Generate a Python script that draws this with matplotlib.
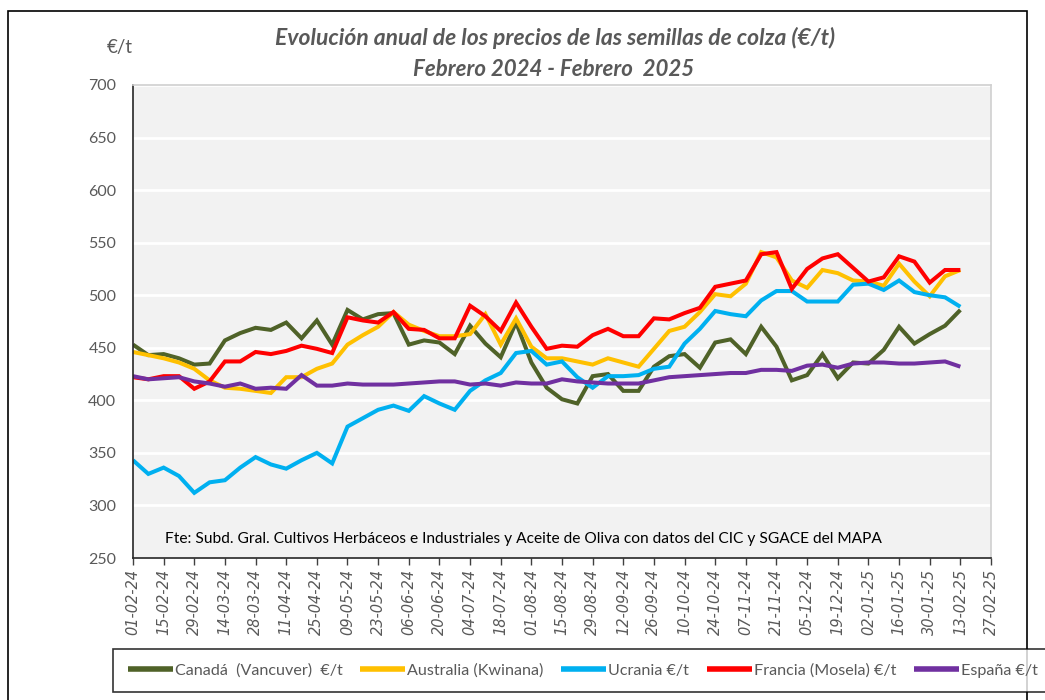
import numpy as np
import pandas as pd
import matplotlib
matplotlib.use("Agg")
import matplotlib.pyplot as plt
import matplotlib.dates as mdates
from matplotlib.patches import Rectangle

plt.rcParams['font.family'] = ['Lato', 'DejaVu Sans']

# weekly prices (€/t), 01-02-24 .. 13-02-25
fechas = pd.date_range('2024-02-01', periods=55, freq='7D')

canada = [453, 443, 444, 440, 434, 435, 457, 464, 469, 467, 474, 459, 476, 453, 486,
          477, 482, 483, 453, 457, 455, 444, 471, 454, 441, 474, 436, 412, 401, 397,
          423, 425, 409, 409, 432, 442, 444, 431, 455, 458, 444, 470, 451, 419, 424,
          444, 421, 436, 435, 448, 470, 454, 463, 471, 486]
australia = [446, 443, 440, 436, 430, 419, 412, 411, 409, 407, 422, 422, 430, 435, 453,
             462, 470, 484, 472, 466, 461, 461, 463, 482, 453, 478, 451, 440, 440, 437,
             434, 440, 436, 432, 449, 466, 470, 484, 501, 499, 511, 541, 536, 514, 507,
             524, 521, 514, 513, 509, 530, 513, 499, 518, 524]
ucrania = [343, 330, 336, 328, 312, 322, 324, 336, 346, 339, 335, 343, 350, 340, 375,
           383, 391, 395, 390, 404, 397, 391, 409, 419, 426, 445, 447, 434, 437, 422,
           412, 423, 423, 424, 430, 432, 454, 468, 485, 482, 480, 495, 504, 504, 494,
           494, 494, 510, 511, 505, 514, 503, 500, 498, 489]
francia = [422, 420, 423, 423, 411, 418, 437, 437, 446, 444, 447, 452, 449, 445, 479,
           476, 474, 484, 468, 467, 459, 459, 490, 480, 466, 493, 470, 449, 452, 451,
           462, 468, 461, 461, 478, 477, 483, 488, 508, 511, 514, 539, 541, 506, 525,
           535, 539, 526, 513, 517, 537, 532, 512, 524, 524]
espana = [423, 420, 421, 422, 418, 416, 413, 416, 411, 412, 411, 424, 414, 414, 416,
          415, 415, 415, 416, 417, 418, 418, 415, 416, 414, 417, 416, 416, 420, 418,
          417, 416, 416, 416, 419, 422, 423, 424, 425, 426, 426, 429, 429, 428, 433,
          434, 431, 435, 436, 436, 435, 435, 436, 437, 432]

series = [
    ("Canadá  (Vancuver)  €/t", canada, "#4F6228"),
    ("Australia (Kwinana)", australia, "#FFC000"),
    ("Ucrania €/t", ucrania, "#00B0F0"),
    ("Francia (Mosela) €/t", francia, "#FF0000"),
    ("España €/t", espana, "#7030A0"),
]

gris = "#595959"

fig = plt.figure(figsize=(10.45, 7), dpi=100)
ax = fig.add_axes([133 / 1045, 1 - 558 / 700, 858 / 1045, 473 / 700])
ax.set_facecolor("#F2F2F2")

for nombre, valores, color in series:
    ax.plot(fechas, valores, color=color, lw=2.9, label=nombre,
            solid_joinstyle='miter', solid_capstyle='butt')

ax.set_ylim(250, 700)
ax.set_yticks(np.arange(250, 701, 50))
ax.yaxis.grid(True, color="white", lw=2)
ax.set_axisbelow(True)
ax.tick_params(axis='y', length=0, pad=12, labelsize=11.5, labelcolor=gris)

ticks = pd.date_range('2024-02-01', '2025-02-27', freq='14D')
ax.set_xlim(ticks[0], ticks[-1])
ax.set_xticks(ticks)
ax.xaxis.set_major_formatter(mdates.DateFormatter('%d-%m-%y'))
ax.tick_params(axis='x', direction='out', length=5, width=1, color="#404040",
               labelsize=10.5, labelcolor=gris, pad=3)
for lab in ax.get_xticklabels():
    lab.set_rotation(90)
    lab.set_fontstyle('italic')
    lab.set_fontfamily('DejaVu Sans')

for s in ['left', 'bottom']:
    ax.spines[s].set_color("#262626")
    ax.spines[s].set_linewidth(1.2)
for s in ['top', 'right']:
    ax.spines[s].set_color("#D0D0D0")
    ax.spines[s].set_linewidth(1.2)

fig.text(165 / 1045, 1 - 539 / 700,
         "Fte: Subd. Gral. Cultivos Herbáceos e Industriales y Aceite de Oliva con datos del CIC y SGACE del MAPA",
         fontsize=11.2, color="black", va='center', ha='left')

fig.text(555 / 1045, 1 - 38 / 700, "Evolución anual de los precios de las semillas de colza (€/t)",
         ha='center', va='center', fontsize=16.5, style='italic', weight='bold', color=gris)
fig.text(554 / 1045, 1 - 70 / 700, "Febrero 2024 - Febrero  2025",
         ha='center', va='center', fontsize=16, style='italic', weight='bold', color=gris)
fig.text(120 / 1045, 1 - 47 / 700, "€/t", ha='center', va='center', fontsize=13.5, color=gris)

fig.patches.append(Rectangle((8 / 1045, -0.05), 1019 / 1045, 1 - 11 / 700 + 0.05,
                             transform=fig.transFigure, fill=False, ec="black", lw=1.2))

leg = fig.legend(loc='upper left', bbox_to_anchor=(113 / 1045, 1 - 649 / 700), ncol=5,
                 frameon=True, fancybox=False, edgecolor="black", fontsize=11.6,
                 handlelength=2.8, handletextpad=0.12, columnspacing=1.1,
                 borderpad=0.9, borderaxespad=0)
leg.get_frame().set_linewidth(1.2)
for t in leg.get_texts():
    t.set_color(gris)
for h in leg.legend_handles:
    h.set_linewidth(4)

fig.savefig("out.png", dpi=100, facecolor="white")
